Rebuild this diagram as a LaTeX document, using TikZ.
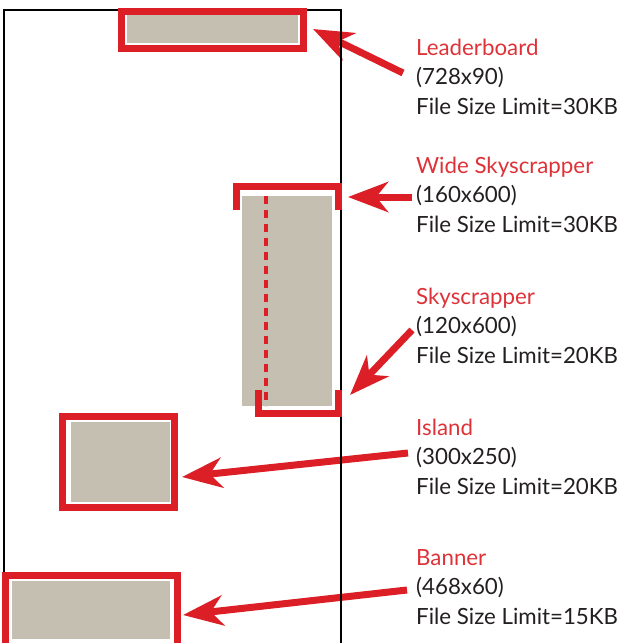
\documentclass[tikz,border=0pt]{standalone}
\usepackage{fontspec}
\setmainfont{Lato}
\usetikzlibrary{arrows.meta}
\definecolor{adred}{RGB}{220,31,38}
\definecolor{txtred}{RGB}{222,50,56}
\definecolor{adbeige}{RGB}{197,191,178}
\definecolor{txtblack}{RGB}{35,31,32}
\tikzset{
  frame/.style={draw=adred, line width=7pt, miter limit=10},
  adbox/.style={fill=adbeige, draw=none},
  pointer/.style={draw=adred, line width=7pt, -{Stealth[length=40pt, width=30pt, inset=12pt]}},
  pageline/.style={draw=black, line width=2.2pt},
  title/.style={anchor=base west, inner sep=0pt, text=txtred, font=\fontsize{22.3}{26}\selectfont},
  info/.style={anchor=base west, inner sep=0pt, text=txtblack, font=\fontsize{22.3}{26}\selectfont},
}
\begin{document}
\begin{tikzpicture}[x=1pt, y=-1pt]
\useasboundingbox (0,0) rectangle (621,643);
\clip (0,0) rectangle (621,643);
% ad boxes
\fill[adbox] (127,15) rectangle (298,43);
\fill[adbox] (242,196) rectangle (332,406);
\fill[adbox] (71,422) rectangle (170,502);
\fill[adbox] (12,581) rectangle (170,639);
% dashed skyscraper edge
\coordinate (dtop) at (266,196);
\coordinate (dbot) at (266,406);
\draw[adred, line width=3.5pt, dash pattern=on 8pt off 6pt] (dtop) -- (dbot);
% arrows
\coordinate (t1) at (403,73);  \coordinate (h1) at (313,29);
\coordinate (t2) at (412,197); \coordinate (h2) at (348,197);
\coordinate (t3) at (412,330); \coordinate (h3) at (350,395);
\coordinate (t4) at (408,453); \coordinate (h4) at (182,477);
\coordinate (t5) at (407,590); \coordinate (h5) at (183,615);
\draw[pointer] (t1) -- (h1);
\draw[pointer] (t2) -- (h2);
\draw[pointer] (t3) -- (h3);
\draw[pointer] (t4) -- (h4);
\draw[pointer] (t5) -- (h5);
% page outline
\draw[pageline] (4.2,660) -- (4.2,10) -- (341.2,10) -- (341.2,660);
% frames
\draw[frame] (121.5,11.5) rectangle (303.5,48.5);
\draw[frame] (236.5,210) -- (236.5,186.5) -- (338,186.5) -- (338,210);
\draw[frame] (258.5,390) -- (258.5,413) -- (338,413) -- (338,390);
\draw[frame] (62.5,416.5) rectangle (174.5,507.5);
\draw[frame] (5.5,575.5) rectangle (177.5,652);
% labels
\node[title] (n1a) at (416,55) {Leaderboard};
\node[info] (n1b) at (416,84.5) {(728x90)};
\node[info] (n1c) at (416,114) {File Size Limit=30KB};
\node[title] (n2a) at (416,173) {Wide Skyscrapper};
\node[info] (n2b) at (416,202.5) {(160x600)};
\node[info] (n2c) at (416,232) {File Size Limit=30KB};
\node[title] (n3a) at (416,304) {Skyscrapper};
\node[info] (n3b) at (416,333.5) {(120x600)};
\node[info] (n3c) at (416,363) {File Size Limit=20KB};
\node[title] (n4a) at (416,435) {Island};
\node[info] (n4b) at (416,464.5) {(300x250)};
\node[info] (n4c) at (416,494) {File Size Limit=20KB};
\node[title] (n5a) at (416,565) {Banner};
\node[info] (n5b) at (416,594.5) {(468x60)};
\node[info] (n5c) at (416,624) {File Size Limit=15KB};
\end{tikzpicture}
\end{document}
